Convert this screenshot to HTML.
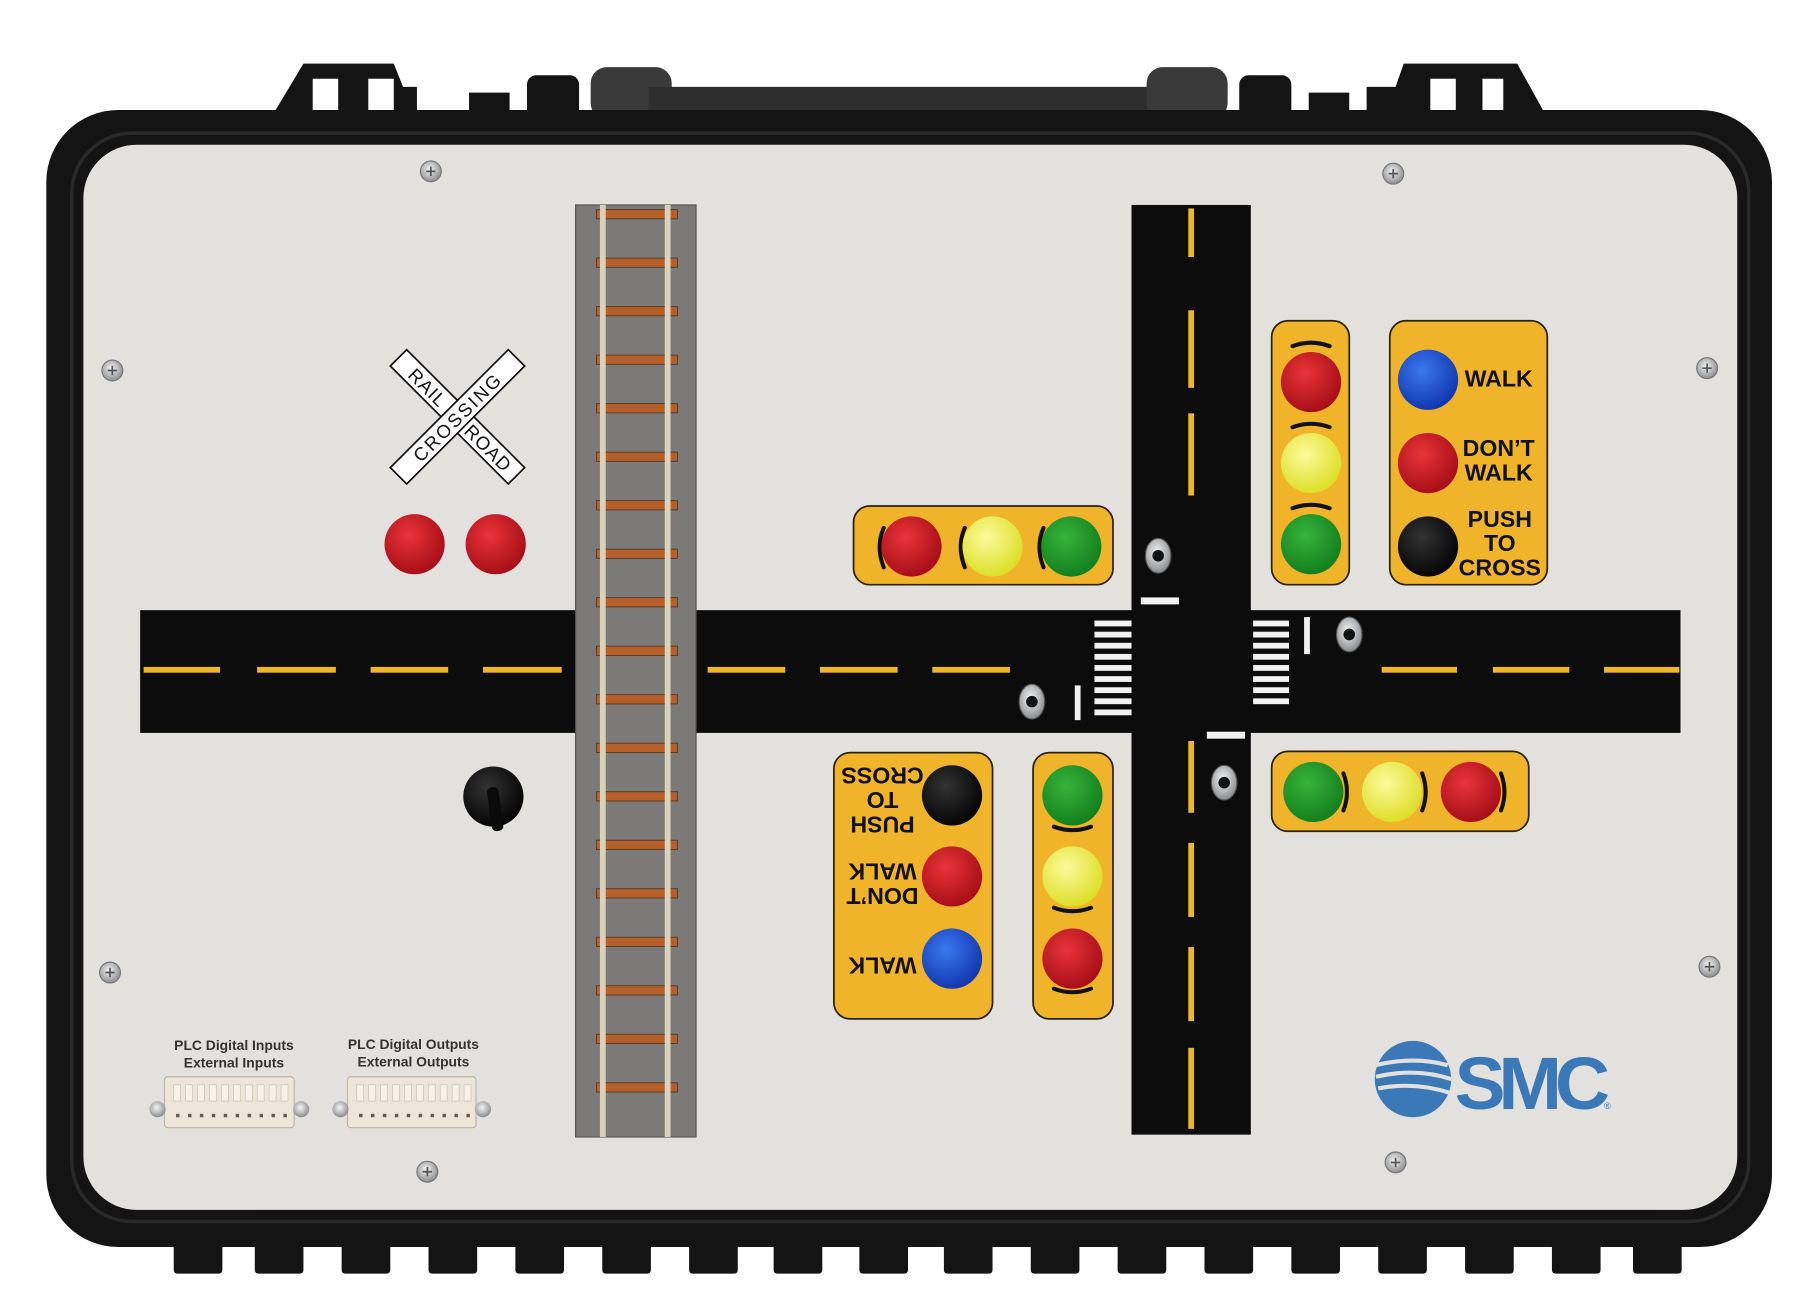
<!DOCTYPE html>
<html><head><meta charset="utf-8"><style>
html,body{margin:0;padding:0;background:#fff;width:1816px;height:1306px;overflow:hidden}
svg{display:block}
text{font-family:"Liberation Sans",Arial,sans-serif}
</style></head><body>
<svg id="s" width="1816" height="1306" viewBox="0 0 1568 1128" preserveAspectRatio="none" xmlns="http://www.w3.org/2000/svg">
<defs>
<radialGradient id="gr" cx="40%" cy="35%" r="65%"><stop offset="0" stop-color="#e8343a"/><stop offset="1" stop-color="#a80f18"/></radialGradient>
<radialGradient id="gy" cx="40%" cy="35%" r="65%"><stop offset="0" stop-color="#fbfb9a"/><stop offset="1" stop-color="#dede2a"/></radialGradient>
<radialGradient id="gg" cx="40%" cy="35%" r="65%"><stop offset="0" stop-color="#36b43a"/><stop offset="1" stop-color="#14801e"/></radialGradient>
<radialGradient id="gb" cx="40%" cy="35%" r="65%"><stop offset="0" stop-color="#3a78f0"/><stop offset="1" stop-color="#1238b0"/></radialGradient>
<radialGradient id="gk" cx="40%" cy="35%" r="65%"><stop offset="0" stop-color="#333"/><stop offset="1" stop-color="#050505"/></radialGradient>
<radialGradient id="gs" cx="45%" cy="40%" r="60%"><stop offset="0" stop-color="#f4f4f4"/><stop offset="1" stop-color="#8a8c90"/></radialGradient>
</defs>
<rect width="1568" height="1128" fill="#fff"/>
<path d="M235 100 L262 55 L340 55 L348 75 L360 75 L360 100 Z" fill="#141414"/>
<rect x="270" y="68" width="22" height="28" fill="#fff"/><rect x="318" y="68" width="22" height="28" fill="#fff"/>
<rect x="405" y="80" width="35" height="22" fill="#141414"/>
<rect x="455" y="65" width="45" height="37" rx="8" fill="#141414"/>
<rect x="510" y="58" width="70" height="45" rx="14" fill="#3a3a3a"/>
<rect x="560" y="75" width="440" height="27" fill="#2e2e2e"/>
<rect x="990" y="58" width="70" height="45" rx="14" fill="#3a3a3a"/>
<rect x="1070" y="65" width="45" height="37" rx="8" fill="#141414"/>
<rect x="1130" y="80" width="35" height="22" fill="#141414"/>
<path d="M1180 100 L1180 75 L1205 75 L1212 55 L1310 55 L1335 100 Z" fill="#141414"/>
<rect x="1235" y="68" width="22" height="28" fill="#fff"/><rect x="1280" y="68" width="18" height="28" fill="#fff"/>
<g id="feet" fill="#141414"></g>
<rect x="40" y="95" width="1490" height="982" rx="62" fill="#141414"/>
<rect x="62" y="115" width="1448" height="940" rx="52" fill="none" stroke="#2a2a2a" stroke-width="3"/>
<rect x="72" y="125" width="1428" height="920" rx="46" fill="#e3e1de"/>
<!-- roads -->
<rect x="121" y="527" width="1330" height="106" fill="#0c0c0c"/>
<rect x="977" y="177" width="103" height="803" fill="#0c0c0c"/>
<g id="dash" fill="#f0b62a"></g>
<g id="cw" fill="#f2f2f2"></g>
<rect x="985" y="516" width="33" height="6" fill="#f2f2f2"/>
<rect x="928" y="592" width="5" height="30" fill="#f2f2f2"/>
<rect x="1126" y="533" width="5" height="32" fill="#f2f2f2"/>
<rect x="1042" y="632" width="33" height="6" fill="#f2f2f2"/>
<!-- railroad over road -->
<rect x="497" y="177" width="104" height="805" fill="#7b7a78" stroke="#555" stroke-width="1"/>
<g id="ties"></g>
<rect x="518" y="177" width="5" height="805" fill="#d8d2bd"/>
<rect x="574" y="177" width="5" height="805" fill="#d8d2bd"/>
<!-- crossbuck -->
<g transform="translate(395,360)">
<g transform="rotate(45)"><rect x="-72" y="-10" width="144" height="20" fill="#fff" stroke="#111" stroke-width="1.5"/></g>
<g transform="rotate(-45)"><rect x="-72" y="-10" width="144" height="20" fill="#fff" stroke="#111" stroke-width="1.5"/></g>
<g transform="rotate(45)"><text x="-36" y="6" font-size="16" text-anchor="middle" fill="#111" letter-spacing="1">RAIL</text><text x="38" y="6" font-size="16" text-anchor="middle" fill="#111" letter-spacing="1">ROAD</text></g>
<g transform="rotate(-45)"><text x="0" y="6" font-size="16" text-anchor="middle" fill="#111" letter-spacing="2">CROSSING</text></g>
</g>
<circle cx="358" cy="470" r="26" fill="url(#gr)"/><circle cx="428" cy="470" r="26" fill="url(#gr)"/>
<circle cx="426" cy="688" r="26" fill="url(#gk)"/>
<rect x="421" y="680" width="10" height="38" rx="4" fill="#0a0a0a" transform="rotate(-8 426 688)"/>
<g stroke="#2a2010" stroke-width="1.5" fill="#efb42a">
<rect x="737" y="437" width="224" height="68" rx="14"/>
<rect x="1098" y="277" width="67" height="228" rx="14"/>
<rect x="1200" y="277" width="136" height="228" rx="14"/>
<rect x="720" y="650" width="137" height="230" rx="14"/>
<rect x="892" y="650" width="69" height="230" rx="14"/>
<rect x="1098" y="649" width="222" height="69" rx="14"/>
</g>
<g fill="none" stroke="#111" stroke-width="3.5" stroke-linecap="round">
<path d="M763 456 Q756 472 763 490"/><path d="M833 456 Q826 472 833 490"/><path d="M901 456 Q894 472 901 490"/>
<path d="M1116 299 Q1132 293 1148 299"/><path d="M1116 369 Q1132 363 1148 369"/><path d="M1116 439 Q1132 433 1148 439"/>
<path d="M910 714 Q926 720 942 714"/><path d="M910 784 Q926 790 942 784"/><path d="M910 854 Q926 860 942 854"/>
<path d="M1160 668 Q1166 684 1160 700"/><path d="M1228 668 Q1234 684 1228 700"/><path d="M1296 668 Q1302 684 1296 700"/>
</g>
<circle cx="787" cy="472" r="26" fill="url(#gr)"/><circle cx="857" cy="472" r="26" fill="url(#gy)"/><circle cx="925" cy="472" r="26" fill="url(#gg)"/>
<circle cx="1132" cy="330" r="26" fill="url(#gr)"/><circle cx="1132" cy="400" r="26" fill="url(#gy)"/><circle cx="1132" cy="470" r="26" fill="url(#gg)"/>
<circle cx="1233" cy="328" r="26" fill="url(#gb)"/><circle cx="1233" cy="400" r="26" fill="url(#gr)"/><circle cx="1233" cy="472" r="26" fill="url(#gk)"/>
<circle cx="822" cy="687" r="26" fill="url(#gk)"/><circle cx="822" cy="757" r="26" fill="url(#gr)"/><circle cx="822" cy="828" r="26" fill="url(#gb)"/>
<circle cx="926" cy="687" r="26" fill="url(#gg)"/><circle cx="926" cy="757" r="26" fill="url(#gy)"/><circle cx="926" cy="828" r="26" fill="url(#gr)"/>
<circle cx="1134" cy="684" r="26" fill="url(#gg)"/><circle cx="1202" cy="684" r="26" fill="url(#gy)"/><circle cx="1270" cy="684" r="26" fill="url(#gr)"/>
<g font-size="20" font-weight="bold" fill="#111" text-anchor="middle">
<text x="1294" y="334">WALK</text>
<text x="1294" y="394">DON’T</text><text x="1294" y="415">WALK</text>
<text x="1295" y="455">PUSH</text><text x="1295" y="476">TO</text><text x="1295" y="497">CROSS</text>
<g transform="rotate(180 763 765)">
<text x="764" y="703">WALK</text>
<text x="764" y="763">DON’T</text><text x="764" y="784">WALK</text>
<text x="764" y="825">PUSH</text><text x="764" y="846">TO</text><text x="764" y="867">CROSS</text>
</g>
</g>
<g id="tog"></g>
<g id="scr"></g>
<g font-size="12" font-weight="bold" fill="#333" text-anchor="middle">
<text x="202" y="907">PLC Digital Inputs</text><text x="202" y="922">External Inputs</text>
<text x="357" y="906">PLC Digital Outputs</text><text x="357" y="921">External Outputs</text>
</g>
<g id="conn"></g>
<g fill="#3b78b8"><circle cx="1220" cy="932" r="33"/></g>
<g stroke="#e3e1de" stroke-width="3.5" fill="none">
<path d="M1188 920 Q1220 912 1250 920"/><path d="M1188 930 Q1222 922 1253 932"/><path d="M1190 940 Q1222 934 1252 944"/>
</g>
<text x="1256" y="958" font-size="64" font-weight="bold" fill="#3b78b8" letter-spacing="-6" textLength="128" lengthAdjust="spacingAndGlyphs">SMC</text>
<text x="1385" y="958" font-size="8" fill="#3b78b8">®</text>
</svg>
<script>
var NS="http://www.w3.org/2000/svg";
function el(p,t,a){var e=document.createElementNS(NS,t);for(var k in a)e.setAttribute(k,a[k]);document.getElementById(p).appendChild(e);return e;}
for(var y=181;y<975;y+=41.9){el('ties','rect',{x:515,y:y,width:70,height:8,fill:'#b5602a',stroke:'#5a3a20','stroke-width':0.8});}
[[124,190],[222,290],[320,387],[417,485],[611,678],[708,775],[805,872],[1193,1258],[1289,1355],[1385,1450]].forEach(function(d){el('dash','rect',{x:d[0],y:576,width:d[1]-d[0],height:5});});
[[180,222],[268,335],[357,428],[640,702],[728,792],[818,882],[905,975]].forEach(function(d){el('dash','rect',{x:1026,y:d[0],width:5,height:d[1]-d[0]});});
for(var i=0;i<9;i++){el('cw','rect',{x:945,y:536+i*9.6,width:32,height:5});}
for(var i=0;i<8;i++){el('cw','rect',{x:1082,y:536+i*9.6,width:31,height:5});}
[[1000,480],[891,606],[1165,548],[1057,676]].forEach(function(p){el('tog','ellipse',{cx:p[0],cy:p[1],rx:11,ry:15,fill:'url(#gs)',stroke:'#555'});el('tog','circle',{cx:p[0],cy:p[1],r:5,fill:'#111'});});
[[372,148],[1203,150],[97,320],[1474,318],[95,840],[1476,835],[369,1012],[1205,1004]].forEach(function(p){el('scr','circle',{cx:p[0],cy:p[1],r:9,fill:'url(#gs)',stroke:'#777'});el('scr','path',{d:'M'+(p[0]-4)+' '+p[1]+'h8M'+p[0]+' '+(p[1]-4)+'v8',stroke:'#555','stroke-width':1.5});});
[[128,268],[286,425]].forEach(function(c){var x=c[0];el('conn','rect',{x:x+14,y:930,width:c[1]-c[0]-28,height:44,rx:3,fill:'#ece6d8',stroke:'#bdb6a6'});
el('conn','circle',{cx:x+8,cy:958,r:7,fill:'url(#gs)'});el('conn','circle',{cx:c[1]-8,cy:958,r:7,fill:'url(#gs)'});
for(var i=0;i<10;i++){el('conn','rect',{x:x+22+i*10.3,y:937,width:6,height:14,fill:'#f6f2e8',stroke:'#c9c2b2','stroke-width':0.6});el('conn','rect',{x:x+24+i*10.3,y:962,width:3,height:3,fill:'#6a5a4a'});}});
var fx=[150,220,295,370,445,520,595,668,742,815,890,965,1040,1115,1190,1265,1340,1410];
fx.forEach(function(x){el('feet','rect',{x:x,y:1068,width:42,height:32,rx:3});});
</script>
</body></html>
